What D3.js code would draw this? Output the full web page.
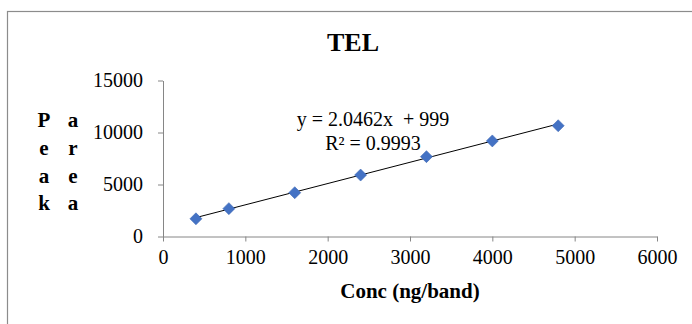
<!DOCTYPE html>
<html>
<head>
<meta charset="utf-8">
<script src="https://cdn.jsdelivr.net/npm/d3@7"></script>
<style>
  body { margin: 0; background: #fff; }
  svg { display: block; font-family: "Liberation Serif", "Times New Roman", serif; }
</style>
</head>
<body>
<svg id="chart" width="692" height="324"></svg>
<script>
// data
const conc = [400, 800, 1600, 2400, 3200, 4000, 4800];
const peakArea = [1700, 2680, 4210, 5910, 7680, 9190, 10650];
const xTicks = [0, 1000, 2000, 3000, 4000, 5000, 6000];
const yTicks = [0, 5000, 10000, 15000];
const slope = 2.0462;
const intercept = 999;
const eqLines = ["y = 2.0462x  + 999", "R\u00b2 = 0.9993"];
const yTitleCols = [["P", "e", "a", "k"], ["a", "r", "e", "a"]];

const svg = d3.select("#chart");
const axisColor = "#868686";

// outer chart border (runs off right/bottom)
svg.append("rect")
  .attr("x", 7.5).attr("y", 11.5)
  .attr("width", 720).attr("height", 340)
  .attr("fill", "none")
  .attr("stroke", "#8c8c8c")
  .attr("stroke-width", 1.2);

const x = d3.scaleLinear().domain([0, 6000]).range([163, 657]);
const y = d3.scaleLinear().domain([0, 15000]).range([236.5, 80.5]);

// x axis
const xAxis = svg.append("g")
  .attr("transform", "translate(0," + y(0) + ")")
  .call(d3.axisBottom(x).tickValues(xTicks).tickFormat(d3.format("d"))
    .tickSize(5).tickSizeOuter(0).tickPadding(8));
// y axis
const yAxis = svg.append("g")
  .attr("transform", "translate(" + x(0) + ",0)")
  .call(d3.axisLeft(y).tickValues(yTicks).tickFormat(d3.format("d"))
    .tickSize(5).tickSizeOuter(0).tickPadding(15));

[xAxis, yAxis].forEach(g => {
  g.select(".domain").attr("stroke", axisColor);
  g.selectAll(".tick line").attr("stroke", axisColor);
  g.selectAll(".tick text")
    .attr("fill", "#000")
    .style("font-family", "Liberation Serif, serif")
    .style("font-size", "20px");
});

// trendline
const x0 = d3.min(conc), x1 = d3.max(conc);
svg.append("line")
  .attr("x1", x(x0)).attr("y1", y(slope * x0 + intercept))
  .attr("x2", x(x1)).attr("y2", y(slope * x1 + intercept))
  .attr("stroke", "#000")
  .attr("stroke-width", 1);

// markers
svg.selectAll(".pt")
  .data(conc.map((c, i) => [c, peakArea[i]]))
  .enter()
  .append("path")
  .attr("class", "pt")
  .attr("transform", d => "translate(" + x(d[0]) + "," + y(d[1]) + ")")
  .attr("d", "M0,-6L6,0L0,6L-6,0Z")
  .attr("fill", "#4472C4")
  .attr("stroke", "#3f69b5")
  .attr("stroke-width", 0.6);

// equation
svg.selectAll(".eq")
  .data(eqLines)
  .enter()
  .append("text")
  .attr("class", "eq")
  .attr("x", 373)
  .attr("y", (d, i) => 126 + i * 24)
  .attr("text-anchor", "middle")
  .style("font-size", "20px")
  .style("white-space", "pre")
  .attr("xml:space", "preserve")
  .text(d => d);

// title
svg.append("text")
  .attr("x", 353).attr("y", 51)
  .attr("text-anchor", "middle")
  .style("font-size", "26px")
  .style("font-weight", "bold")
  .text("TEL");

// x axis title
svg.append("text")
  .attr("x", 410).attr("y", 298)
  .attr("text-anchor", "middle")
  .style("font-size", "21px")
  .style("font-weight", "bold")
  .text("Conc (ng/band)");

// y axis title, wrapped in two columns
yTitleCols.forEach((col, ci) => {
  svg.selectAll(".yt" + ci)
    .data(col)
    .enter()
    .append("text")
    .attr("x", 44 + ci * 29)
    .attr("y", (d, i) => 127 + i * 27.8)
    .attr("text-anchor", "middle")
    .style("font-size", "21px")
    .style("font-weight", "bold")
    .text(d => d);
});
</script>
</body>
</html>
